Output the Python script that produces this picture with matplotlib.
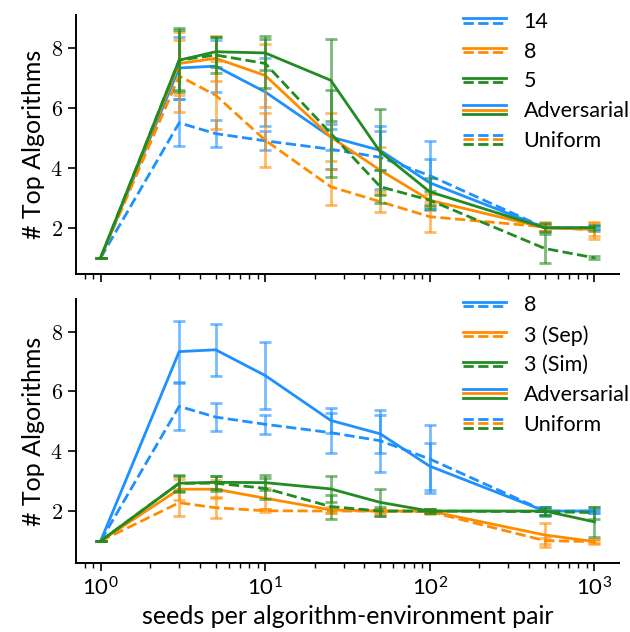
import matplotlib
matplotlib.use("Agg")
import matplotlib.pyplot as plt
from matplotlib.lines import Line2D
from matplotlib.legend_handler import HandlerBase
from matplotlib.ticker import FuncFormatter

plt.rcParams['font.family'] = ['Lato', 'DejaVu Sans']
plt.rcParams['mathtext.fontset'] = 'cm'

seeds = [1, 3, 5, 10, 25, 50, 100, 500, 1000]

# blue series (same algorithm set shown in both panels)
adv_blue = [1, 7.33, 7.39, 6.53, 5.03, 4.58, 3.50, 2.00, 2.00]
adv_blue_err = [0, 1.03, 0.87, 1.12, 0.43, 0.64, 0.79, 0.12, 0.05]
uni_blue = [1, 5.50, 5.14, 4.90, 4.62, 4.35, 3.74, 2.00, 2.00]
uni_blue_err = [0, 0.78, 0.46, 0.32, 0.67, 1.04, 1.15, 0.12, 0.05]

# top panel
adv_8 = [1, 7.48, 7.65, 7.08, 5.03, 3.92, 2.92, 2.00, 1.95]
adv_8_err = [0, 1.05, 0.76, 1.05, 0.80, 0.78, 0.20, 0.10, 0.22]
uni_8 = [1, 7.06, 6.42, 4.92, 3.37, 2.87, 2.37, 2.03, 1.92]
uni_8_err = [0, 1.20, 1.14, 0.90, 0.60, 0.35, 0.50, 0.15, 0.28]
adv_5 = [1, 7.59, 7.87, 7.83, 6.92, 4.53, 3.20, 2.00, 2.00]
adv_5_err = [0, 1.06, 0.50, 0.56, 1.36, 1.42, 0.45, 0.15, 0.10]
uni_5 = [1, 7.59, 7.76, 7.48, 5.15, 3.37, 2.92, 1.31, 1.00]
uni_5_err = [0, 1.00, 0.60, 0.83, 1.44, 0.55, 0.30, 0.50, 0.05]

# bottom panel
adv_sep = [1, 2.73, 2.73, 2.43, 2.04, 2.00, 2.00, 1.20, 0.98]
adv_sep_err = [0, 0.35, 0.30, 0.35, 0.10, 0.08, 0.08, 0.40, 0.06]
uni_sep = [1, 2.28, 2.11, 2.01, 2.00, 2.00, 1.98, 1.01, 0.98]
uni_sep_err = [0, 0.45, 0.35, 0.05, 0.08, 0.08, 0.08, 0.10, 0.08]
adv_sim = [1, 2.93, 2.96, 2.95, 2.74, 2.29, 2.00, 2.00, 1.64]
adv_sim_err = [0, 0.28, 0.22, 0.26, 0.44, 0.45, 0.08, 0.15, 0.50]
uni_sim = [1, 2.93, 2.93, 2.76, 2.15, 2.00, 2.00, 1.98, 1.95]
uni_sim_err = [0, 0.25, 0.25, 0.35, 0.40, 0.15, 0.08, 0.10, 0.20]

top_labels = ['14', '8', '5']
bottom_labels = ['8', '3 (Sep)', '3 (Sim)']
colors = ['#1E90FF', '#FF8C00', '#228B22']

LW = 2.0


class StackedLines(HandlerBase):
    # draws every line of a tuple handle, stacked on top of each other
    def create_artists(self, legend, orig_handle, xdescent, ydescent,
                       width, height, fontsize, trans):
        n = len(orig_handle)
        gap = 3.2
        out = []
        for i, h in enumerate(orig_handle):
            y = height / 2 - ydescent + ((n - 1) / 2 - i) * gap
            ln = Line2D([-xdescent, width - xdescent], [y, y],
                        color=h.get_color(), linestyle=h.get_linestyle(),
                        lw=h.get_linewidth())
            ln.set_transform(trans)
            out.append(ln)
        return out


def draw_panel(ax, series, labels):
    for (adv, adv_e, uni, uni_e), c in zip(series, colors):
        ax.errorbar(seeds, adv, yerr=adv_e, fmt='none', ecolor=c, alpha=0.6,
                    elinewidth=LW, capsize=4.6, capthick=LW)
        ax.errorbar(seeds, uni, yerr=uni_e, fmt='none', ecolor=c, alpha=0.6,
                    elinewidth=LW, capsize=4.6, capthick=LW)
        ax.plot(seeds, adv, color=c, lw=LW, ls='-')
        ax.plot(seeds, uni, color=c, lw=LW, ls='--')

    solid = [Line2D([], [], color=c, lw=LW, ls='-') for c in colors]
    dashed = [Line2D([], [], color=c, lw=LW, ls='--') for c in colors]
    handles = [(s, d) for s, d in zip(solid, dashed)] + [tuple(solid), tuple(dashed)]
    ax.legend(handles, labels + ['Adversarial', 'Uniform'],
              handler_map={tuple: StackedLines()}, frameon=False,
              loc='upper right', bbox_to_anchor=(1.055, 1.087),
              fontsize=15.5, handlelength=2.0, handletextpad=0.8,
              labelspacing=0.45)

    ax.set_xscale('log')
    ax.spines['top'].set_visible(False)
    ax.spines['right'].set_visible(False)
    ax.spines['left'].set_linewidth(1.4)
    ax.spines['bottom'].set_linewidth(1.4)
    ax.set_yticks([2, 4, 6, 8])
    ax.yaxis.set_major_formatter(FuncFormatter(lambda v, p: r'$%d$' % v))
    ax.tick_params(axis='both', which='major', length=6, width=1.2, labelsize=16)
    ax.tick_params(axis='both', which='minor', length=3.5, width=1.0)
    ax.set_ylabel('# Top Algorithms', fontsize=18)


fig = plt.figure(figsize=(6.3, 6.32), dpi=100)
ax1 = fig.add_axes([0.1206, 0.566, 0.862, 0.410])
ax2 = fig.add_axes([0.1206, 0.109, 0.862, 0.418], sharex=ax1)

draw_panel(ax1, [(adv_blue, adv_blue_err, uni_blue, uni_blue_err),
                 (adv_8, adv_8_err, uni_8, uni_8_err),
                 (adv_5, adv_5_err, uni_5, uni_5_err)], top_labels)
draw_panel(ax2, [(adv_blue, adv_blue_err, uni_blue, uni_blue_err),
                 (adv_sep, adv_sep_err, uni_sep, uni_sep_err),
                 (adv_sim, adv_sim_err, uni_sim, uni_sim_err)], bottom_labels)

ax1.set_ylim(0.45, 9.09)
ax2.set_ylim(0.26, 9.09)
ax1.tick_params(axis='x', which='both', labelbottom=False)
ax2.set_xlabel('seeds per algorithm-environment pair', fontsize=18)

fig.savefig('out.png', dpi=100)
